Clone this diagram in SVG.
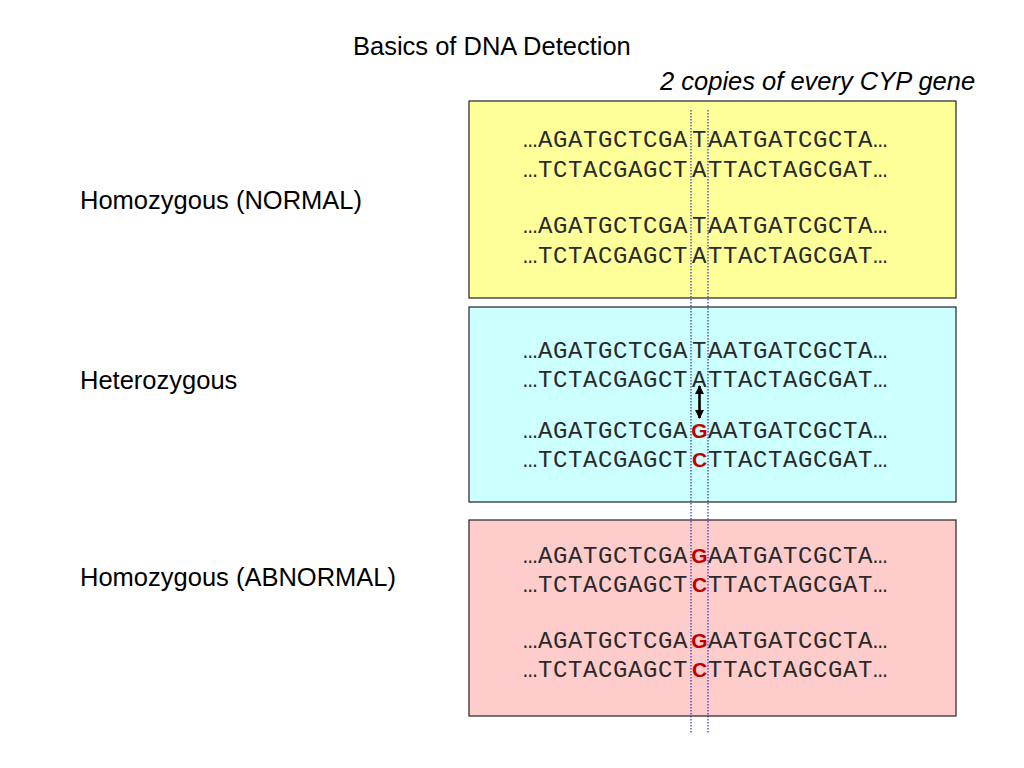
<svg xmlns="http://www.w3.org/2000/svg" width="1024" height="768" viewBox="0 0 1024 768">
<defs>
<style>
.lbl{font-family:"Liberation Sans",Arial,sans-serif;font-size:25.5px;fill:#000}
.it{font-family:"Liberation Sans",Arial,sans-serif;font-size:25.5px;font-style:italic;fill:#000}
.dna{font-family:"Liberation Mono","Courier New",monospace;font-size:24px;letter-spacing:0.6px;fill:#2a2a2a}
.mut{font-family:"Liberation Sans",Arial,sans-serif;font-size:21px;font-weight:bold;letter-spacing:0;fill:#C00000}
.box{stroke:#222;stroke-width:1.2}
.dot{stroke:#3333BB;stroke-width:1.2;stroke-dasharray:1.5 1.5;fill:none}
</style>
<marker id="ah" viewBox="0 0 10 10" refX="9" refY="5" markerWidth="3.6" markerHeight="3.6" orient="auto-start-reverse">
<path d="M0,0 L10,5 L0,10 z" fill="#000"/>
</marker>
</defs>
<rect width="1024" height="768" fill="#fff"/>
<text class="lbl" x="353" y="55">Basics of DNA Detection</text>
<text class="it" x="660" y="90">2 copies of every CYP gene</text>

<g id="normal">
<rect class="box" x="469" y="101" width="487" height="197" fill="#FFFF99"/>
<text class="lbl" x="80" y="209">Homozygous (NORMAL)</text>
<text class="dna" y="147"><tspan x="523">…AGATGCTCGA</tspan><tspan x="692">T</tspan><tspan x="708">AATGATCGCTA…</tspan></text>
<text class="dna" y="177"><tspan x="523">…TCTACGAGCT</tspan><tspan x="692">A</tspan><tspan x="708">TTACTAGCGAT…</tspan></text>
<text class="dna" y="233"><tspan x="523">…AGATGCTCGA</tspan><tspan x="692">T</tspan><tspan x="708">AATGATCGCTA…</tspan></text>
<text class="dna" y="263"><tspan x="523">…TCTACGAGCT</tspan><tspan x="692">A</tspan><tspan x="708">TTACTAGCGAT…</tspan></text>
</g>

<g id="hetero">
<rect class="box" x="469" y="307" width="487" height="195" fill="#CCFFFF"/>
<text class="lbl" x="80" y="389">Heterozygous</text>
<text class="dna" y="358"><tspan x="523">…AGATGCTCGA</tspan><tspan x="692">T</tspan><tspan x="708">AATGATCGCTA…</tspan></text>
<text class="dna" y="387"><tspan x="523">…TCTACGAGCT</tspan><tspan x="692">A</tspan><tspan x="708">TTACTAGCGAT…</tspan></text>
<text class="dna" y="438"><tspan x="523">…AGATGCTCGA</tspan><tspan class="mut" x="699.5" text-anchor="middle">G</tspan><tspan x="708">AATGATCGCTA…</tspan></text>
<text class="dna" y="467"><tspan x="523">…TCTACGAGCT</tspan><tspan class="mut" x="699.5" text-anchor="middle">C</tspan><tspan x="708">TTACTAGCGAT…</tspan></text>
</g>

<g id="abnormal">
<rect class="box" x="469" y="520" width="487" height="196" fill="#FFCCCC"/>
<text class="lbl" x="80" y="586">Homozygous (ABNORMAL)</text>
<text class="dna" y="563"><tspan x="523">…AGATGCTCGA</tspan><tspan class="mut" x="699.5" text-anchor="middle">G</tspan><tspan x="708">AATGATCGCTA…</tspan></text>
<text class="dna" y="592"><tspan x="523">…TCTACGAGCT</tspan><tspan class="mut" x="699.5" text-anchor="middle">C</tspan><tspan x="708">TTACTAGCGAT…</tspan></text>
<text class="dna" y="648"><tspan x="523">…AGATGCTCGA</tspan><tspan class="mut" x="699.5" text-anchor="middle">G</tspan><tspan x="708">AATGATCGCTA…</tspan></text>
<text class="dna" y="677"><tspan x="523">…TCTACGAGCT</tspan><tspan class="mut" x="699.5" text-anchor="middle">C</tspan><tspan x="708">TTACTAGCGAT…</tspan></text>
</g>

<g id="connectors">
<line class="dot" x1="691" y1="110" x2="691" y2="733"/>
<line class="dot" x1="708" y1="110" x2="708" y2="733"/>
<line x1="699.5" y1="386" x2="699.5" y2="418" stroke="#000" stroke-width="2.6" marker-start="url(#ah)" marker-end="url(#ah)"/>
</g>
</svg>
